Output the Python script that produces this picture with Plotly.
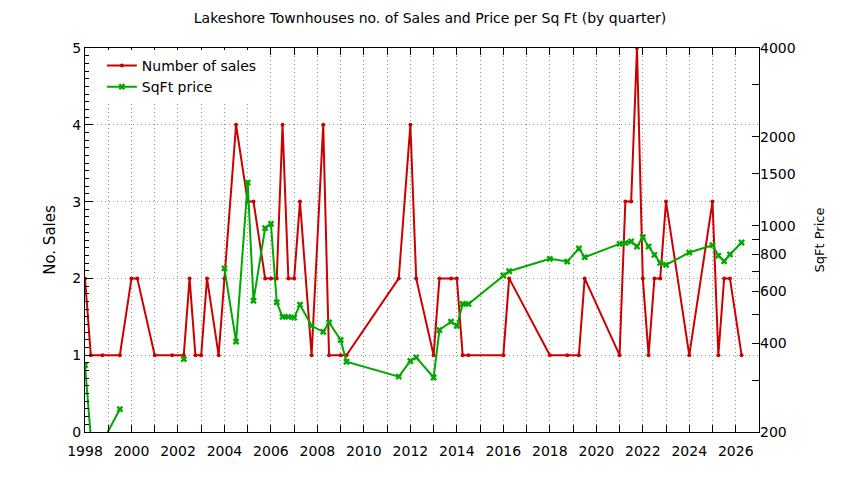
import plotly.graph_objects as go

# Quarterly data
sales_quarter = [1998.0, 1998.25, 1998.75, 1999.5, 2000.0, 2000.25, 2001.0, 2001.75,
                 2002.25, 2002.5, 2002.75, 2003.0, 2003.25, 2003.75, 2004.0, 2004.5,
                 2005.0, 2005.25, 2005.75, 2006.0, 2006.25, 2006.5, 2006.75, 2007.0,
                 2007.25, 2007.75, 2008.25, 2008.5, 2009.0, 2009.25, 2011.5, 2012.0,
                 2012.25, 2013.0, 2013.25, 2013.75, 2014.0, 2014.25, 2014.5, 2016.0,
                 2016.25, 2018.0, 2018.75, 2019.25, 2019.5, 2021.0, 2021.25, 2021.5,
                 2021.75, 2022.0, 2022.25, 2022.5, 2022.75, 2023.0, 2024.0, 2025.0,
                 2025.25, 2025.5, 2025.75, 2026.25]
num_sales = [2, 1, 1, 1, 2, 2, 1, 1,
             1, 2, 1, 1, 2, 1, 2, 4,
             3, 3, 2, 2, 2, 4, 2, 2,
             3, 1, 4, 1, 1, 1, 2, 4,
             2, 1, 2, 2, 2, 1, 1, 1,
             2, 1, 1, 1, 2, 1, 3, 3,
             5, 2, 1, 2, 2, 3, 1, 3,
             1, 2, 2, 1]

# None = no price that quarter (line breaks)
price_quarter = [1998.0, 1998.25, 1998.75, 1999.5, 2000.0, 2002.25, 2003.0, 2004.0,
                 2004.5, 2005.0, 2005.25, 2005.75, 2006.0, 2006.25, 2006.5, 2006.75,
                 2007.0, 2007.25, 2007.75, 2008.25, 2008.5, 2009.0, 2009.25, 2011.5,
                 2012.0, 2012.25, 2013.0, 2013.25, 2013.75, 2014.0, 2014.25, 2014.5,
                 2016.0, 2016.25, 2018.0, 2018.75, 2019.25, 2019.5, 2021.0, 2021.25,
                 2021.5, 2021.75, 2022.0, 2022.25, 2022.5, 2022.75, 2023.0, 2024.0,
                 2025.0, 2025.25, 2025.5, 2025.75, 2026.25]
sqft_price = [337, 192, 185, 239, None, 353, None, 717,
              405, 1399, 557, 981, 1015, 550, 491, 491,
              488, 540, 458, 437, 470, 410, 346, 308,
              348, 358, 306, 443, 473, 458, 543, 543,
              678, 701, 772, 756, 837, 782, 868, 874,
              884, 850, 914, 850, 797, 748, 737, 811,
              859, 792, 758, 799, 877]

year_ticks = list(range(1998, 2028))
year_labels = [str(y) if y % 2 == 0 else '' for y in year_ticks]
price_ticks = [200, 300, 400, 500, 600, 700, 800, 900, 1000, 1500, 2000, 3000, 4000]
price_labels = ['200', '', '400', '', '600', '', '800', '', '1000', '1500', '2000', '', '4000']

RED = '#cc0000'
GREEN = '#00a800'
FONT = 'DejaVu Sans'
GRID = '#9a9a9a'

fig = go.Figure()

fig.add_trace(go.Scatter(
    x=sales_quarter, y=num_sales, name='Number of sales',
    mode='lines+markers',
    line=dict(color=RED, width=2),
    marker=dict(symbol='circle', size=4, color=RED),
    yaxis='y'
))

fig.add_trace(go.Scatter(
    x=price_quarter, y=sqft_price, name='SqFt price',
    mode='lines+markers',
    line=dict(color=GREEN, width=2),
    marker=dict(symbol='x', size=6, color=GREEN),
    connectgaps=False,
    yaxis='y2'
))

# the page body adds an 8px offset, so margins are trimmed by that much
fig.update_layout(
    width=844, height=480,
    margin=dict(l=77, r=93, t=40, b=56),
    paper_bgcolor='white', plot_bgcolor='white',
    font=dict(family=FONT, size=14, color='black'),
    title=dict(text='Lakeshore Townhouses no. of Sales and Price per Sq Ft (by quarter)',
               x=0.5, xanchor='center', y=0.979, yanchor='middle',
               font=dict(size=14)),
    showlegend=True,
    legend=dict(x=0.025, y=0.995, xanchor='left', yanchor='top',
                bgcolor='white', borderwidth=0, font=dict(size=14),
                tracegroupgap=0),
    xaxis=dict(
        range=[1998, 2027], tickvals=year_ticks, ticktext=year_labels,
        ticks='inside', ticklen=7, tickcolor='black', ticklabelstandoff=6,
        showline=True, linecolor='black', linewidth=1, mirror='ticks',
        showgrid=True, gridcolor=GRID, griddash='1px,3px', gridwidth=1,
        zeroline=False, automargin=False
    ),
    yaxis=dict(
        range=[0, 5], tickvals=[0, 1, 2, 3, 4, 5],
        ticks='inside', ticklen=8, tickcolor='black',
        minor=dict(ticks='inside', dtick=0.1, ticklen=4, tickcolor='black', showgrid=False),
        showline=True, linecolor='black', linewidth=1, mirror=True,
        showgrid=True, gridcolor=GRID, griddash='1px,3px', gridwidth=1,
        zeroline=False, automargin=False,
        title=dict(text='No. Sales', standoff=13, font=dict(size=15))
    ),
    yaxis2=dict(
        type='log', range=[2.30103, 3.60206],
        overlaying='y', side='right',
        tickvals=price_ticks, ticktext=price_labels,
        ticks='inside', ticklen=7, tickcolor='black',
        showline=False, showgrid=False, zeroline=False, automargin=False,
        title=dict(text='SqFt Price', standoff=20, font=dict(size=13))
    )
)

fig.write_html('out.html')
